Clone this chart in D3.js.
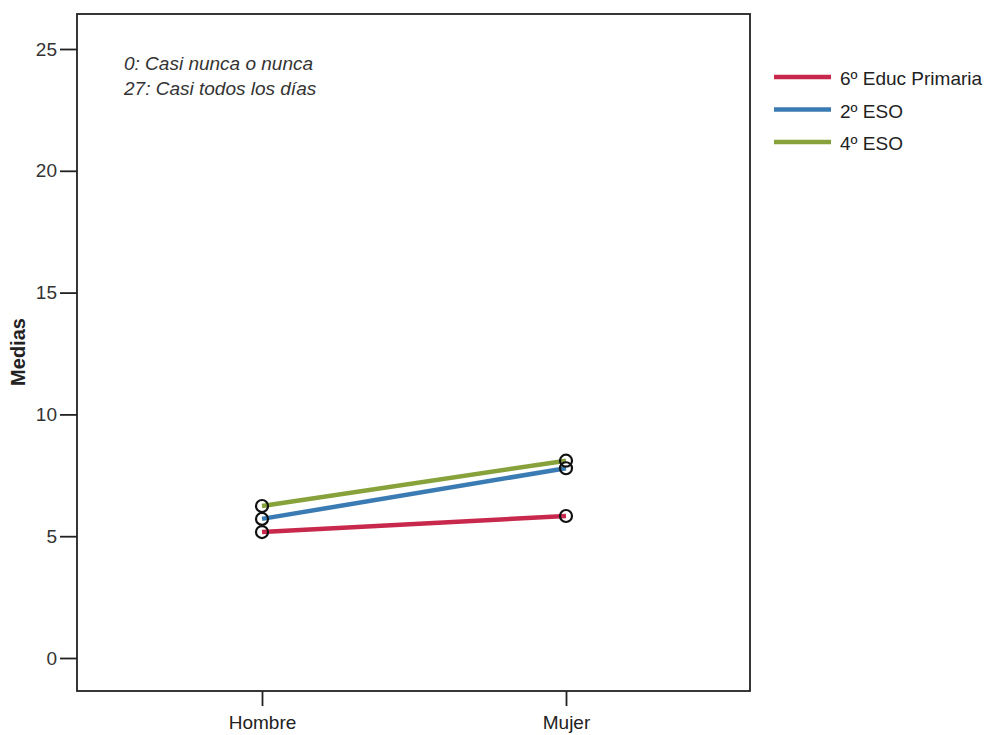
<!DOCTYPE html>
<html><head><meta charset="utf-8">
<script src="https://cdn.jsdelivr.net/npm/d3@7"></script>
<style>body{margin:0;background:#fff}text{font-family:"Liberation Sans",Arial,sans-serif}</style>
</head><body><svg id="c" width="993" height="735"></svg>
<script>
const categories = ["Hombre", "Mujer"];
const seriesNames = ["6º Educ Primaria", "2º ESO", "4º ESO"];
const seriesColors = ["#c8284c", "#3a7bb3", "#87a23b"];
const primaria = [5.17, 5.83];
const eso2 = [5.71, 7.79];
const eso4 = [6.24, 8.10];
const yTicks = [0, 5, 10, 15, 20, 25];
const notes = ["0: Casi nunca o nunca", "27: Casi todos los días"];

const series = [primaria, eso2, eso4];
const svg = d3.select("#c");
const L = 77, R = 750, T = 14, B = 691;
const y = d3.scaleLinear().domain([0, 25]).range([658, 49]);
const x = d3.scalePoint().domain(categories).range([262, 566]);

svg.append("rect").attr("x", L).attr("y", T).attr("width", R - L).attr("height", B - T)
  .attr("fill", "none").attr("stroke", "#222").attr("stroke-width", 1.8);

const ya = svg.append("g").attr("transform", `translate(${L},0)`)
  .call(d3.axisLeft(y).tickValues(yTicks).tickSize(17).tickPadding(3));
ya.select(".domain").remove();
ya.selectAll("line").attr("stroke", "#222").attr("stroke-width", 1.8);
ya.selectAll("text").attr("font-size", 19).attr("fill", "#333");

const xa = svg.append("g").attr("transform", `translate(0,${B})`)
  .call(d3.axisBottom(x).tickSize(15).tickPadding(10));
xa.select(".domain").remove();
xa.selectAll("line").attr("stroke", "#222").attr("stroke-width", 1.8);
xa.selectAll("text").attr("font-size", 19).attr("fill", "#222");

svg.append("text").attr("transform", "translate(25,352) rotate(-90)")
  .attr("text-anchor", "middle").attr("font-size", 20).attr("font-weight", "bold")
  .attr("fill", "#222").text("Medias");

notes.forEach((n, i) => svg.append("text").attr("x", 124).attr("y", 70 + i * 25)
  .attr("font-size", 19).attr("font-style", "italic").attr("fill", "#333").text(n));

const line = d3.line().x((d, i) => x(categories[i])).y(d => y(d));
series.forEach((s, k) => {
  svg.append("path").datum(s).attr("d", line).attr("fill", "none")
    .attr("stroke", seriesColors[k]).attr("stroke-width", 4.5);
});
series.forEach((s, k) => {
  svg.selectAll(null).data(s).enter().append("circle")
    .attr("cx", (d, i) => x(categories[i])).attr("cy", d => y(d)).attr("r", 6)
    .attr("fill", "none").attr("stroke", "#111").attr("stroke-width", 2.2);
});

const lg = svg.append("g");
seriesNames.forEach((n, k) => {
  const yy = 77 + k * 32.5;
  lg.append("line").attr("x1", 774).attr("x2", 831).attr("y1", yy).attr("y2", yy)
    .attr("stroke", seriesColors[k]).attr("stroke-width", 4.5);
  lg.append("text").attr("x", 840).attr("y", yy + 8).attr("font-size", 19)
    .attr("fill", "#222").text(n);
});
</script></body></html>
